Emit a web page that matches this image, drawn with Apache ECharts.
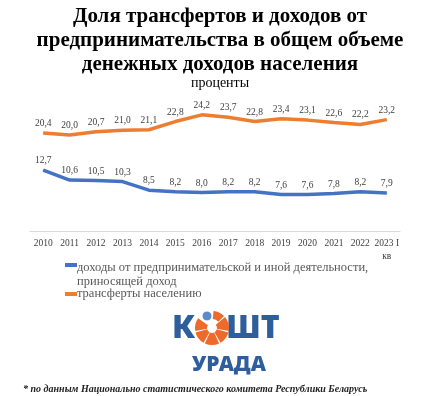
<!DOCTYPE html>
<html><head><meta charset="utf-8">
<script src="https://cdn.jsdelivr.net/npm/echarts@6/dist/echarts.min.js"></script>
<style>html,body{margin:0;padding:0;background:#fff}#c{width:440px;height:396px}</style>
</head><body><div id="c"></div>
<script>
const categories = ['2010','2011','2012','2013','2014','2015','2016','2017','2018','2019','2020','2021','2022','2023 I\nкв'];
const businessIncome = [12.7,10.6,10.5,10.3,8.5,8.2,8.0,8.2,8.2,7.6,7.6,7.8,8.2,7.9];
const transfers = [20.4,20.0,20.7,21.0,21.1,22.8,24.2,23.7,22.8,23.4,23.1,22.6,22.2,23.2];
const seriesNames = ['доходы от предпринимательской и иной деятельности,\nприносящей доход', 'трансферты населению'];
const titleText = 'Доля трансфертов и доходов от\nпредпринимательства в общем объеме\nденежных доходов населения';
const subtitleText = 'проценты';
const footnoteText = '* по данным Национально статистического комитета Республики Беларусь';

const serif = '"Liberation Serif", "DejaVu Serif", serif';
const blue = '#4472C4', orange = '#ED7D31', logoBlue = '#2E5E9C', logoOrange = '#EE6A2C';

const chart = echarts.init(document.getElementById('c'), null, {renderer: 'canvas'});
const labelStyle = {show: true, position: 'top', distance: 4, fontFamily: serif, fontSize: 9.5, color: '#404040',
  formatter: p => Number(p.value).toFixed(1).replace('.', ',')};

// logo sectors
const cx = 212, cy = 328;
const sectors = [];
const angs = [[-40,10],[15,60],[65,115],[120,165],[170,215]];
angs.forEach(a => sectors.push({type:'sector', shape:{cx, cy, r:17, r0:5, startAngle:a[0]*Math.PI/180, endAngle:a[1]*Math.PI/180}, style:{fill: logoOrange}}));
sectors.push({type:'sector', shape:{cx, cy, r:17, r0:9, startAngle:-85*Math.PI/180, endAngle:-45*Math.PI/180}, style:{fill: logoOrange}});
sectors.push({type:'circle', shape:{cx: cx-5, cy: cy-12, r:5}, style:{fill:'#5B8BC9', stroke:'#fff', lineWidth:1}});

chart.setOption({
  animation: false,
  title: [
    {text: titleText, left: 'center', top: 0, padding: [5,5,5,11],
     textStyle: {fontFamily: serif, fontWeight: 'bold', fontSize: 21, lineHeight: 24, color: '#000'}},
    {text: subtitleText, left: 'center', top: 71, padding: [5,5,5,11],
     textStyle: {fontFamily: serif, fontWeight: 'normal', fontSize: 14, color: '#000'}},
    {text: footnoteText, left: 18, top: 379,
     textStyle: {fontFamily: serif, fontStyle: 'italic', fontWeight: 'bold', fontSize: 10, color: '#222'}}
  ],
  grid: {left: 30, right: 40, top: 87, bottom: 165},
  xAxis: {type: 'category', data: categories, boundaryGap: true,
    axisLine: {lineStyle: {color: '#D9D9D9'}}, axisTick: {show: false},
    axisLabel: {fontFamily: serif, fontSize: 9.5, color: '#404040', margin: 6, interval: 0, lineHeight: 13}},
  yAxis: {type: 'value', min: 0, max: 30, show: false, splitLine: {show: false}},
  legend: [
    {data: [seriesNames[0]], left: 60, top: 256, orient: 'vertical', itemWidth: 12, itemHeight: 28,
     icon: 'path://M0,4h12v4h-12z M0,27.99h0.01v0.01h-0.01z', itemGap: 2,
     textStyle: {fontFamily: serif, fontSize: 12.5, lineHeight: 14, color: '#595959', padding: [0,0,0,-5]}},
    {data: [seriesNames[1]], left: 60, top: 282, orient: 'vertical', itemWidth: 12, itemHeight: 4,
     icon: 'rect',
     textStyle: {fontFamily: serif, fontSize: 12.5, lineHeight: 14, color: '#595959', padding: [0,0,0,-5]}}
  ],
  series: [
    {name: seriesNames[0], type: 'line', data: businessIncome, symbol: 'circle', symbolSize: 1, showSymbol: true, color: blue,
     lineStyle: {width: 3.5, color: blue}, label: labelStyle},
    {name: seriesNames[1], type: 'line', data: transfers, symbol: 'circle', symbolSize: 1, showSymbol: true, color: orange,
     lineStyle: {width: 3.5, color: orange}, label: labelStyle}
  ],
  graphic: [
    {type: 'text', left: 172, top: 313, style: {text: 'К', font: '900 32px "Noto Sans", Roboto, sans-serif', fill: logoBlue}},
    {type: 'text', left: 226, top: 313, style: {text: 'ШТ', font: '900 32px "Noto Sans", Roboto, sans-serif', fill: logoBlue}},
    {type: 'text', left: 192, top: 355, style: {text: 'УРАДА', font: '900 21px "Noto Sans", Roboto, sans-serif', fill: logoBlue}},
    {type: 'group', children: sectors}
  ]
});
</script></body></html>
